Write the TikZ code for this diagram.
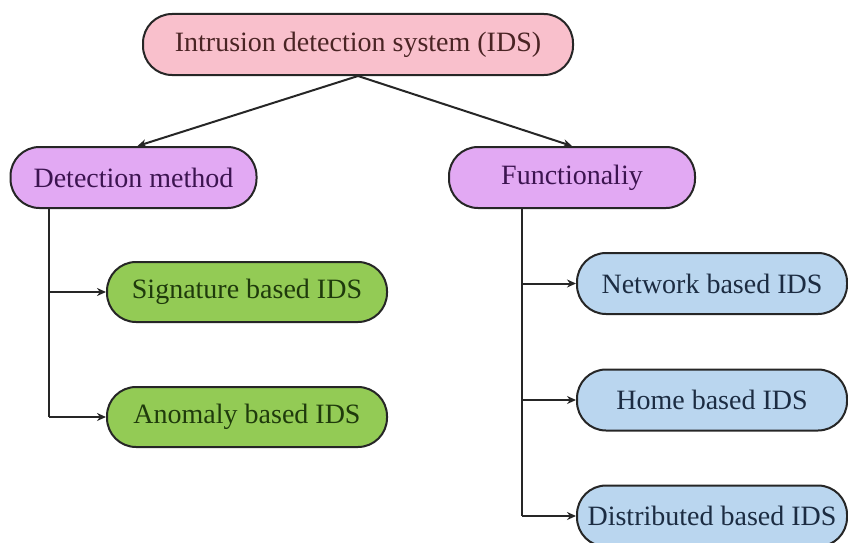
\documentclass[tikz,border=0pt]{standalone}
\usepackage{fontspec}
\setmainfont{Liberation Serif}
\usetikzlibrary{arrows.meta}
\definecolor{pinkfill}{HTML}{F9C0CC}
\definecolor{purplefill}{HTML}{E2A9F3}
\definecolor{greenfill}{HTML}{93CB55}
\definecolor{bluefill}{HTML}{BAD6EF}
\definecolor{pinktext}{HTML}{4A2424}
\definecolor{purpletext}{HTML}{3C1450}
\definecolor{greentext}{HTML}{1F3A0C}
\definecolor{bluetext}{HTML}{1C2C42}
\tikzset{
  box/.style={draw=black!85, line width=2pt, rounded corners=29pt, minimum height=61pt,
    inner sep=0pt, font=\fontsize{28}{32}\selectfont},
  topbox/.style={box, fill=pinkfill, text=pinktext, minimum width=430pt},
  midbox/.style={box, fill=purplefill, text=purpletext, minimum width=246pt},
  greenbox/.style={box, fill=greenfill, text=greentext, minimum width=280pt, minimum height=60pt},
  bluebox/.style={box, fill=bluefill, text=bluetext, minimum width=270pt},
  conn/.style={draw=black!85, line width=2pt, -{Stealth[length=9pt,width=8pt]}},
  plainline/.style={draw=black!85, line width=2pt}
}
\begin{document}
\begin{tikzpicture}[x=1pt,y=-1pt]
\useasboundingbox (0,0) rectangle (848,543);
\node[topbox] (ids) at (358,44.5) {Intrusion detection system (IDS)};
\node[midbox] (det) at (133.5,177.5) {Detection method};
\node[midbox] (fun) at (572,177.5) {Functionaliy};
\node[greenbox] (sig) at (247,292) {Signature based IDS};
\node[greenbox] (ano) at (247,417) {Anomaly based IDS};
\node[bluebox] (net) at (712,283.5) {Network based IDS};
\node[bluebox] (hom) at (712,400) {Home based IDS};
\node[bluebox] (dis) at (712,516) {Distributed based IDS};
\coordinate (lx) at (49,0);
\coordinate (rx) at (522,0);
\draw[conn] (ids.south) -- ([xshift=4pt]det.north);
\draw[conn] (ids.south) -- (fun.north);
\draw[plainline] (det.south -| lx) -- (ano.west -| lx);
\draw[conn] (sig.west -| lx) -- (sig.west);
\draw[conn] (ano.west -| lx) -- (ano.west);
\draw[plainline] (fun.south -| rx) -- (dis.west -| rx);
\draw[conn] (net.west -| rx) -- (net.west);
\draw[conn] (hom.west -| rx) -- (hom.west);
\draw[conn] (dis.west -| rx) -- (dis.west);
\end{tikzpicture}
\end{document}
